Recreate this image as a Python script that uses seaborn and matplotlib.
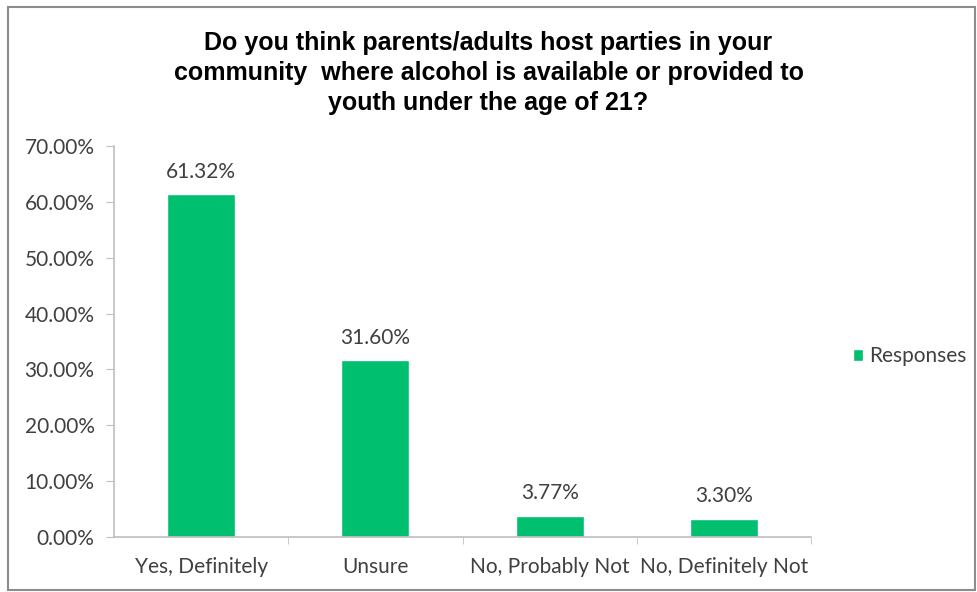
import numpy as np
import pandas as pd
import matplotlib
matplotlib.use("Agg")
import matplotlib.pyplot as plt
import seaborn as sns
from matplotlib.ticker import FuncFormatter, FixedLocator

categories = ["Yes, Definitely", "Unsure", "No, Probably Not", "No, Definitely Not"]
responses = [61.32, 31.60, 3.77, 3.30]
y_ticks = [0, 10, 20, 30, 40, 50, 60, 70]

df = pd.DataFrame({"answer": categories, "pct": responses})

sns.set_style("white")
plt.rcParams["font.family"] = ["Lato", "DejaVu Sans"]

green = "#00BF6F"
axis_gray = "#BFBFBF"
text_gray = "#404040"

fig = plt.figure(figsize=(9.77, 5.92), dpi=100)
ax = fig.add_axes([0.1167, 0.0929, 0.7134, 0.6605])

sns.barplot(data=df, x="answer", y="pct", color=green, width=0.39,
            label="Responses", ax=ax, saturation=1)

# value labels above bars
for p, v in zip(ax.patches, responses):
    ax.text(p.get_x() + p.get_width() / 2, v + 2.3, f"{v:.2f}%",
            ha="center", va="bottom", fontsize=15, color=text_gray)

ax.set_ylim(0, 70)
ax.set_xlim(-0.5, 3.5)
ax.yaxis.set_major_locator(FixedLocator(y_ticks))
ax.yaxis.set_major_formatter(FuncFormatter(lambda v, _: f"{v:.2f}%"))
ax.set_xlabel("")
ax.set_ylabel("")

for side in ["top", "right"]:
    ax.spines[side].set_visible(False)
for side in ["left", "bottom"]:
    ax.spines[side].set_color(axis_gray)
    ax.spines[side].set_linewidth(1.2)

ax.tick_params(axis="y", which="both", left=True, length=6, color=axis_gray,
               labelsize=15, labelcolor=text_gray, pad=8)
ax.tick_params(axis="x", bottom=False, labelsize=15, labelcolor=text_gray, pad=11)
# small tick marks between categories
ax.set_xticks([0.5, 1.5, 2.5, 3.5], minor=True)
ax.tick_params(axis="x", which="minor", bottom=True, length=5, color=axis_gray)

leg = ax.legend(loc="center left", bbox_to_anchor=(1.033, 0.463), frameon=False,
                handlelength=0.5, handleheight=0.5, handletextpad=0.3,
                prop={"size": 15})
for t in leg.get_texts():
    t.set_color(text_gray)

fig.text(0.5, 0.877,
         "Do you think parents/adults host parties in your\n"
         "community  where alcohol is available or provided to\n"
         "youth under the age of 21?",
         ha="center", va="center", fontsize=18, fontweight="bold",
         family=["Liberation Sans Narrow", "Liberation Sans", "DejaVu Sans"],
         linespacing=1.3, color="black")

# outer frame like the exported chart area
fig.patches.append(plt.Rectangle((0.008, 0.004), 0.99, 0.985, transform=fig.transFigure,
                                 fill=False, edgecolor="#8C8C8C", linewidth=1.5))

fig.savefig("out.png", dpi=100)
